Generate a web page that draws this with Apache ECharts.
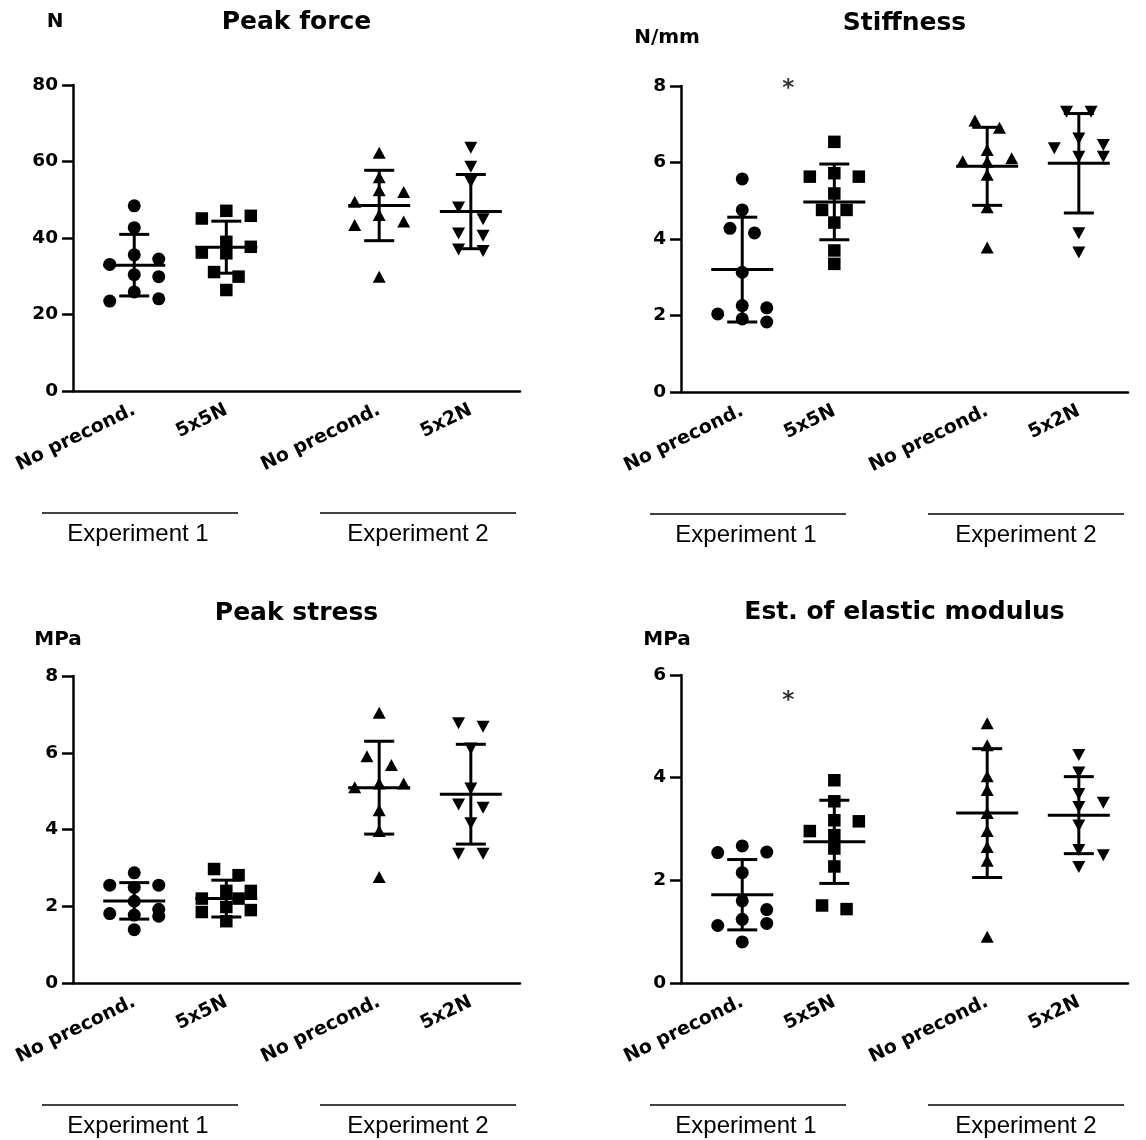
<!DOCTYPE html>
<html><head><meta charset="utf-8">
<script src="https://cdn.jsdelivr.net/npm/echarts@6/dist/echarts.min.js"></script>
<style>html,body{margin:0;padding:0;background:#fff}#c{width:1146px;height:1140px}</style>
</head><body><div id="c"></div><script>
// ---------- DATA ----------
const groupNames = ['No precond.', '5x5N', 'No precond.', '5x2N'];
const experimentNames = ['Experiment 1', 'Experiment 2'];
const titles = ['Peak force', 'Stiffness', 'Peak stress', 'Est. of elastic modulus'];
const units = ['N', 'N/mm', 'MPa', 'MPa'];

// Peak force (N)
const pfExp1None = [48.4, 42.7, 35.6, 34.5, 33.1, 30.4, 29.9, 25.9, 24.1, 23.5];
const pfExp1_5x5N = [47.1, 45.8, 45.1, 39.0, 37.7, 36.2, 36.0, 31.1, 29.9, 26.4];
const pfExp2None = [62.3, 55.9, 52.5, 52.0, 49.5, 46.0, 44.3, 43.4, 29.9];
const pfExp2_5x2N = [63.6, 58.6, 54.7, 48.0, 44.9, 41.2, 40.6, 37.0, 36.6];
const pfMean = [32.9, 37.6, 48.5, 46.9];
const pfSD = [8.05, 6.8, 9.2, 9.7];

// Stiffness (N/mm)
const stExp1None = [5.57, 4.76, 4.28, 4.16, 3.13, 2.26, 2.20, 2.04, 1.91, 1.83];
const stExp1_5x5N = [6.54, 5.72, 5.63, 5.63, 5.19, 4.76, 4.76, 4.43, 3.70, 3.35];
const stExp2None = [7.10, 6.91, 6.33, 6.11, 6.03, 6.02, 5.68, 4.83, 3.78];
const stExp2_5x2N = [7.33, 7.33, 6.63, 6.46, 6.37, 6.15, 6.15, 4.15, 3.65];
const stMean = [3.20, 4.97, 5.90, 5.98];
const stSD = [1.37, 0.99, 1.02, 1.30];
const stSignificance = 8.0;   // "*" level between the Experiment 1 groups

// Peak stress (MPa)
const psExp1None = [2.87, 2.55, 2.55, 2.49, 2.13, 1.92, 1.81, 1.77, 1.74, 1.39];
const psExp1_5x5N = [2.97, 2.81, 2.40, 2.40, 2.20, 2.20, 1.98, 1.90, 1.85, 1.61];
const psExp2None = [7.04, 5.91, 5.68, 5.20, 5.20, 5.10, 4.50, 3.96, 2.76];
const psExp2_5x2N = [6.77, 6.68, 6.11, 5.07, 4.65, 4.57, 4.16, 3.37, 3.37];
const psMean = [2.14, 2.20, 5.09, 4.92];
const psSD = [0.475, 0.48, 1.21, 1.30];

// Est. of elastic modulus (MPa)
const emExp1None = [2.67, 2.55, 2.54, 2.15, 1.60, 1.43, 1.24, 1.16, 1.12, 0.80];
const emExp1_5x5N = [3.95, 3.54, 3.17, 3.15, 2.96, 2.88, 2.62, 2.27, 1.51, 1.44];
const emExp2None = [5.06, 4.63, 4.03, 3.76, 3.31, 2.96, 2.65, 2.38, 0.90];
const emExp2_5x2N = [4.44, 4.10, 3.68, 3.51, 3.43, 3.07, 2.59, 2.49, 2.26];
const emMean = [1.72, 2.75, 3.31, 3.27];
const emSD = [0.685, 0.81, 1.255, 0.75];
const emSignificance = 5.55;

const yMax = [80, 8, 8, 6];
const yInterval = [20, 2, 2, 2];

// ---------- LAYOUT ----------
const POS = [13.7, 34.3, 68.5, 89.0]; // group positions on a 0..100 x scale
const grids = [
  {left: 73, top: 85, width: 447, height: 306},
  {left: 681, top: 86, width: 447, height: 306},
  {left: 73, top: 676, width: 447, height: 307},
  {left: 681, top: 675, width: 447, height: 308}
];
const unitPos = [[55, 22], [667, 38], [58, 640], [667, 640]];
const BOLD = 'DejaVu Sans';
const panels = [
  {groups: [pfExp1None, pfExp1_5x5N, pfExp2None, pfExp2_5x2N], mean: pfMean, sd: pfSD, sig: null},
  {groups: [stExp1None, stExp1_5x5N, stExp2None, stExp2_5x2N], mean: stMean, sd: stSD, sig: stSignificance},
  {groups: [psExp1None, psExp1_5x5N, psExp2None, psExp2_5x2N], mean: psMean, sd: psSD, sig: null},
  {groups: [emExp1None, emExp1_5x5N, emExp2None, emExp2_5x2N], mean: emMean, sd: emSD, sig: emSignificance}
];
const symbols = ['circle', 'rect', 'triangle', 'triangle'];
const symRot = [0, 0, 0, 180];
const symSize = [13, 12.5, [13, 12], [13, 12]];

function nameAt(v) {
  let bi = 0, bd = Infinity;
  POS.forEach((p, i) => { const d = Math.abs(p - v); if (d < bd) { bd = d; bi = i; } });
  return groupNames[bi];
}

const chart = echarts.init(document.getElementById('c'), null, {renderer: 'canvas'});

function buildOption(pointData) {
  const option = {
    animation: false,
    backgroundColor: '#fff',
    grid: grids.map(g => ({left: g.left, top: g.top, width: g.width, height: g.height, containLabel: false})),
    xAxis: grids.map((g, p) => ({
      type: 'value', gridIndex: p, min: 0, max: 100,
      axisLine: {show: true, onZero: false, lineStyle: {color: '#000', width: 2.5}},
      axisTick: {show: false}, splitLine: {show: false},
      axisLabel: {customValues: POS, formatter: v => nameAt(v), rotate: 26, margin: 18,
        color: '#000', fontFamily: BOLD, fontWeight: 'bold', fontSize: 19}
    })),
    yAxis: grids.map((g, p) => ({
      type: 'value', gridIndex: p, min: 0, max: yMax[p], interval: yInterval[p],
      axisLine: {show: true, lineStyle: {color: '#000', width: 2.5}},
      axisTick: {show: true, length: 11, lineStyle: {color: '#000', width: 2.5}},
      splitLine: {show: false},
      axisLabel: {color: '#000', fontFamily: BOLD, fontWeight: 'bold', fontSize: 18.5, margin: 15}
    })),
    series: [],
    graphic: {elements: []}
  };
  panels.forEach((pn, p) => {
    pn.groups.forEach((vals, gi) => {
      option.series.push({
        type: 'scatter', xAxisIndex: p, yAxisIndex: p,
        symbol: symbols[gi], symbolRotate: symRot[gi], symbolSize: symSize[gi],
        itemStyle: {color: '#000', opacity: 1},
        data: pointData[p][gi]
      });
    });
    option.series.push({
      type: 'custom', xAxisIndex: p, yAxisIndex: p, z: 3,
      data: pn.mean.map((m, i) => [POS[i], m, pn.sd[i]]),
      renderItem: (params, api) => {
        const x = api.value(0), m = api.value(1), s = api.value(2);
        const pm = api.coord([x, m]), pt = api.coord([x, m + s]), pb = api.coord([x, m - s]);
        const st = {stroke: '#000', lineWidth: 3};
        return {type: 'group', children: [
          {type: 'line', shape: {x1: pt[0], y1: pt[1], x2: pb[0], y2: pb[1]}, style: st},
          {type: 'line', shape: {x1: pt[0] - 15, y1: pt[1], x2: pt[0] + 15, y2: pt[1]}, style: st},
          {type: 'line', shape: {x1: pb[0] - 15, y1: pb[1], x2: pb[0] + 15, y2: pb[1]}, style: st},
          {type: 'line', shape: {x1: pm[0] - 31, y1: pm[1], x2: pm[0] + 31, y2: pm[1]}, style: st}
        ]};
      }
    });
    if (pn.sig !== null) {
      option.series.push({
        type: 'scatter', xAxisIndex: p, yAxisIndex: p, symbolSize: 2, z: 5,
        itemStyle: {color: 'rgba(0,0,0,0)'}, silent: true,
        label: {show: true, position: 'inside', formatter: '*', color: '#000',
          textBorderWidth: 0, fontFamily: BOLD, fontWeight: 'bold', fontSize: 23, offset: [0, 3]},
        data: [[(POS[0] + POS[1]) / 2, pn.sig]]
      });
    }
    const g = grids[p];
    const B = g.top + g.height;
    const els = option.graphic.elements;
    els.push({type: 'text', x: g.left + g.width / 2, y: g.top - 63,
      style: {text: titles[p], fill: '#000', font: 'bold 25px "' + BOLD + '"', textAlign: 'center', textVerticalAlign: 'middle'}});
    els.push({type: 'text', x: unitPos[p][0], y: unitPos[p][1],
      style: {text: units[p], fill: '#000', font: 'bold 20px "' + BOLD + '"', textAlign: 'center', textVerticalAlign: 'middle'}});
    [[-31, 165, 65], [247, 443, 345]].forEach((d, e) => {
      els.push({type: 'line', shape: {x1: g.left + d[0], y1: B + 122, x2: g.left + d[1], y2: B + 122},
        style: {stroke: '#000', lineWidth: 1.3}});
      els.push({type: 'text', x: g.left + d[2], y: B + 143,
        style: {text: experimentNames[e], fill: '#000', font: '24px "Liberation Sans"', textAlign: 'center', textVerticalAlign: 'middle'}});
    });
  });
  return option;
}

// pass 1: all points on the group centre
const centred = panels.map(pn => pn.groups.map((vals, gi) => vals.map(v => [POS[gi], v])));
chart.setOption(buildOption(centred));

// pass 2: beeswarm spreading (pixel-based collision avoidance)
const ROW = 12.5, STEP = 24.5;
function swarm(p, gi, vals) {
  const ys = vals.map(v => chart.convertToPixel({gridIndex: p}, [POS[gi], v])[1]);
  const x0 = chart.convertToPixel({gridIndex: p}, [POS[gi], 0])[0];
  const order = vals.map((v, i) => i).sort((a, b) => vals[b] - vals[a]);
  const cands = [0, STEP, -STEP, STEP / 2, -STEP / 2];
  const placed = [];
  const off = vals.map(() => 0);
  order.forEach(i => {
    let best = 0, bestCost = Infinity;
    for (const c of cands) {
      let cost = 0;
      for (const q of placed) {
        const dx = Math.abs(c - q.dx), dy = Math.abs(ys[i] - q.y);
        if (dx < 20 && dy < ROW) cost += (20 - dx) * (ROW - dy);
      }
      if (cost === 0) { best = c; bestCost = 0; break; }
      if (cost < bestCost) { bestCost = cost; best = c; }
    }
    off[i] = best;
    placed.push({dx: best, y: ys[i]});
  });
  // centre isolated pairs (0 / ±step -> ±step/2)
  let comp = [order[0]];
  const comps = [];
  for (let k = 1; k < order.length; k++) {
    if (Math.abs(ys[order[k]] - ys[order[k - 1]]) < ROW) comp.push(order[k]);
    else { comps.push(comp); comp = [order[k]]; }
  }
  comps.push(comp);
  comps.forEach(c => {
    if (c.length === 2) {
      const s = (off[c[0]] + off[c[1]]) / 2;
      off[c[0]] -= s; off[c[1]] -= s;
    }
  });
  return vals.map((v, i) => [chart.convertFromPixel({gridIndex: p}, [x0 + off[i], ys[i]])[0], v]);
}
const spread = panels.map((pn, p) => pn.groups.map((vals, gi) => swarm(p, gi, vals)));
chart.setOption(buildOption(spread), true);
</script></body></html>
